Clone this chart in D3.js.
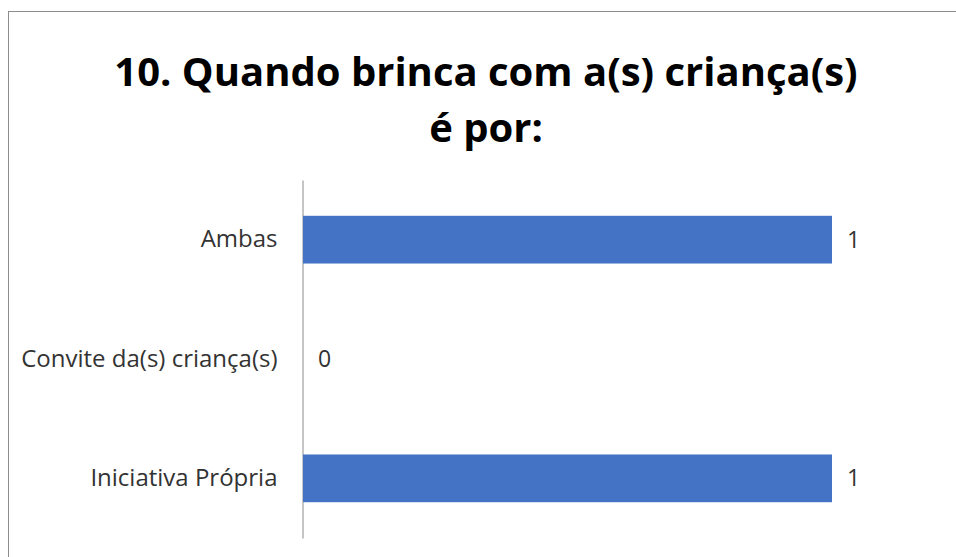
<!DOCTYPE html>
<html>
<head>
<meta charset="utf-8">
<script src="https://cdn.jsdelivr.net/npm/d3@7"></script>
<style>
  body { margin: 0; background: #fff; }
  svg { display: block; }
  text { font-family: "Open Sans", "Noto Sans", sans-serif; }
</style>
</head>
<body>
<div id="chart-container"></div>
<script>
// categories, top to bottom
const CATEGORIES = ["Ambas", "Convite da(s) criança(s)", "Iniciativa Própria"];
// number of answers
const VALUES = [1, 0, 1];
const TITLE_LINES = ["10. Quando brinca com a(s) criança(s)", "é por:"];

const DATA = CATEGORIES.map((c, i) => ({ category: c, value: VALUES[i] }));

function drawChart() {
    const W = 956, H = 557;
    const plot = { left: 303, right: 832, top: 180, bottom: 538 };

    const svg = d3.select("#chart-container")
        .append("svg")
        .attr("width", W)
        .attr("height", H);

    // chart frame (bottom/right cut by the picture)
    svg.append("rect")
        .attr("x", 8.5).attr("y", 11.5)
        .attr("width", 1000).attr("height", 1000)
        .attr("fill", "none")
        .attr("stroke", "#8c8c8c")
        .attr("stroke-width", 1);

    // title
    svg.append("text")
        .attr("text-anchor", "middle")
        .attr("font-weight", "bold")
        .attr("font-size", 40)
        .attr("fill", "#000")
        .selectAll("tspan")
        .data(TITLE_LINES)
        .enter()
        .append("tspan")
        .attr("x", 486)
        .attr("y", (d, i) => 86 + i * 56)
        .text(d => d);

    const x = d3.scaleLinear()
        .domain([0, 1])
        .range([plot.left, plot.right]);

    const y = d3.scaleBand()
        .domain(CATEGORIES)
        .range([plot.top, plot.bottom])
        .paddingInner(0.6)
        .paddingOuter(0.3);

    // category axis
    const axis = svg.append("g")
        .attr("transform", `translate(${plot.left - 0.5},0)`)
        .call(d3.axisLeft(y).tickSize(0).tickPadding(25));
    axis.select(".domain").attr("stroke", "#8c8c8c");
    axis.selectAll("text")
        .attr("font-size", 24)
        .attr("fill", "#333")
        .style("font-family", "'Open Sans', sans-serif");

    // bars
    svg.append("g")
        .selectAll("rect")
        .data(DATA)
        .enter()
        .append("rect")
        .attr("x", x(0))
        .attr("y", d => y(d.category))
        .attr("width", d => x(d.value) - x(0))
        .attr("height", y.bandwidth())
        .attr("fill", "#4472c4");

    // value labels
    svg.append("g")
        .selectAll("text")
        .data(DATA)
        .enter()
        .append("text")
        .attr("x", d => x(d.value) + 15)
        .attr("y", d => y(d.category) + y.bandwidth() / 2)
        .attr("dy", "0.35em")
        .attr("font-size", 23)
        .attr("fill", "#333")
        .text(d => d.value);
}

window.onload = drawChart;
</script>
</body>
</html>
